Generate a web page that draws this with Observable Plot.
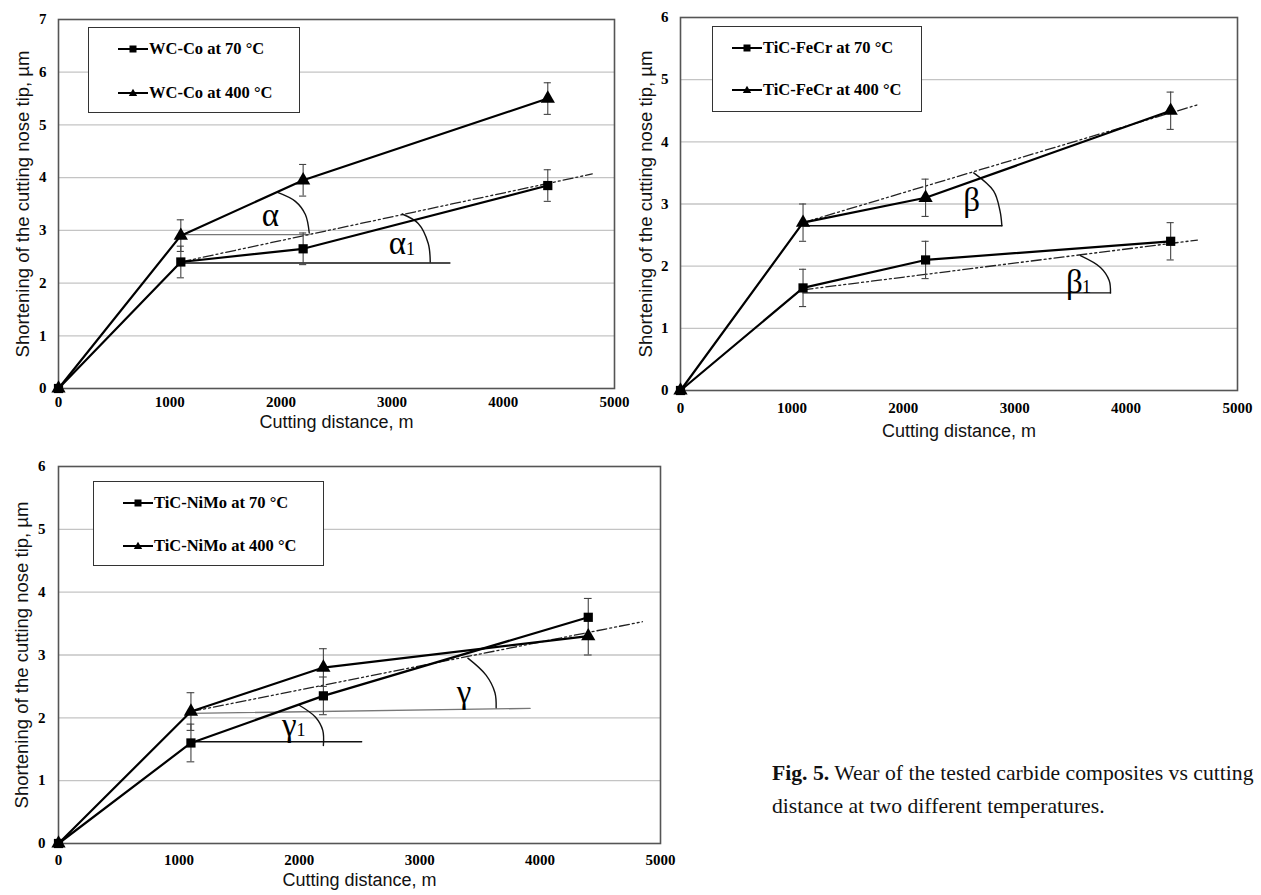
<!DOCTYPE html>
<html><head><meta charset="utf-8">
<script src="https://cdn.jsdelivr.net/npm/d3@7"></script>
<script src="https://cdn.jsdelivr.net/npm/@observablehq/plot@0.6"></script>
<style>
body{margin:0;background:#fff;width:1261px;height:895px;position:relative;overflow:hidden;}
.panel{position:absolute;}
.legend{position:absolute;border:1.5px solid #333;background:#fff;box-sizing:border-box;}
.item{position:absolute;font-family:"Liberation Serif",serif;font-weight:bold;font-size:16.5px;white-space:nowrap;line-height:18px;height:18px;display:flex;align-items:center;}
.caption{position:absolute;left:772px;top:757px;font-family:"Liberation Serif",serif;font-size:21.7px;line-height:33px;color:#111;white-space:nowrap;}
</style></head><body>
<script>
// ---- data ----
const distance = [0, 1100, 2200, 4400];
const errorHalf = [0, 0.3, 0.3, 0.3];
const wcCo70 = [0, 2.4, 2.65, 3.85];
const wcCo400 = [0, 2.9, 3.95, 5.5];
const ticFeCr70 = [0, 1.65, 2.1, 2.4];
const ticFeCr400 = [0, 2.7, 3.1, 4.5];
const ticNiMo70 = [0, 1.6, 2.35, 3.6];
const ticNiMo400 = [0, 2.1, 2.8, 3.3];
const xTicks = [0, 1000, 2000, 3000, 4000, 5000];
const yTicks7 = [0, 1, 2, 3, 4, 5, 6, 7];
const yTicks6 = [0, 1, 2, 3, 4, 5, 6];
const legendWC = ["WC-Co at 70 °C", "WC-Co at 400 °C"];
const legendFeCr = ["TiC-FeCr at 70 °C", "TiC-FeCr at 400 °C"];
const legendNiMo = ["TiC-NiMo at 70 °C", "TiC-NiMo at 400 °C"];
const xTitle = "Cutting distance, m";
const yTitle = "Shortening of the cutting nose tip, µm";

// annotation geometry (data units)
const trendsWC = [[[1100, 2.4], [4800, 4.07]]];
const refGrayWC = [[[1100, 2.92], [2255, 2.92]]];
const refBlackWC = [[[1100, 2.38], [3520, 2.38]]];
const arcsWC = [
  [[1970, 3.72], [2130, 3.55], [2220, 3.3], [2255, 2.95]],
  [[3090, 3.31], [3235, 3.13], [3325, 2.75], [3343, 2.4]]
];
const greekWC = [{x: 1906, y: 3.28, t: "α"}, {x: 3048, y: 2.75, t: "α"}];
const subWC = [{x: 3165, y: 2.64, t: "1"}];

const trendsFeCr = [[[1100, 2.7], [4650, 4.6]], [[1100, 1.62], [4640, 2.42]]];
const refGrayFeCr = [];
const refBlackFeCr = [[[1100, 2.65], [2885, 2.65]], [[1100, 1.57], [3860, 1.57]]];
const arcsFeCr = [
  [[2632, 3.5], [2810, 3.21], [2868, 2.89], [2885, 2.65]],
  [[3590, 2.17], [3770, 1.98], [3848, 1.77], [3860, 1.57]]
];
const greekFeCr = [{x: 2613, y: 3.05, t: "β"}, {x: 3535, y: 1.74, t: "β"}];
const subFeCr = [{x: 3645, y: 1.66, t: "1"}];

const trendsNiMo = [[[1100, 2.1], [4850, 3.53]]];
const refGrayNiMo = [[[1100, 2.07], [3917, 2.15]]];
const refBlackNiMo = [[[1100, 1.62], [2518, 1.62]]];
const arcsNiMo = [
  [[3400, 2.95], [3551, 2.68], [3625, 2.4], [3635, 2.16]],
  [[2000, 2.2], [2135, 2.01], [2195, 1.8], [2200, 1.56]]
];
const greekNiMo = [{x: 3368, y: 2.41, t: "γ"}, {x: 1917, y: 1.88, t: "γ"}];
const subNiMo = [{x: 2015, y: 1.8, t: "1"}];

// ---- helpers ----
function rows(values) {
  return distance.map((x, i) => ({x, y: values[i], e: errorHalf[i]}));
}
function segs(list) {
  return list.flatMap((pts, k) => pts.map(([x, y]) => ({x, y, k})));
}

function makePanel(cfg) {
  const r70 = rows(cfg.s70), r400 = rows(cfg.s400);
  const both = r70.concat(r400).filter(d => d.e > 0);
  const lineStyle = {x: "x", y: "y", stroke: "#000", strokeWidth: 2.2};
  const chart = Plot.plot({
    width: cfg.width, height: cfg.height,
    marginLeft: cfg.ml, marginRight: cfg.mr, marginTop: cfg.mt, marginBottom: cfg.mb,
    x: {domain: [0, 5000]},
    y: {domain: [0, cfg.yMax]},
    style: {fontFamily: "Liberation Serif", background: "transparent", overflow: "visible", color: "#000"},
    marks: [
      Plot.gridY(cfg.yTicks.slice(1, -1), {stroke: "#c4c4c4", strokeOpacity: 1, strokeWidth: 1.3}),
      Plot.frame({stroke: "#555", strokeWidth: 1.6}),
      Plot.axisX(xTicks, {tickSize: 0, tickPadding: cfg.xPad, fontWeight: "bold", fontSize: 15, label: null, tickFormat: d => String(d)}),
      Plot.axisY(cfg.yTicks, {tickSize: 0, tickPadding: cfg.yPad, fontWeight: "bold", fontSize: 15, label: null, tickFormat: d => String(d)}),
      Plot.text([xTitle], {frameAnchor: "bottom", dy: cfg.xTitleDy, fontFamily: "Liberation Sans", fontSize: 18, fill: "#111", textAnchor: "middle"}),
      Plot.text([yTitle], {frameAnchor: "left", dx: -cfg.yTitleDx, rotate: -90, fontFamily: "Liberation Sans", fontSize: 18.5, fill: "#111", textAnchor: "middle"}),
      Plot.line(segs(cfg.refGray), {x: "x", y: "y", z: "k", stroke: "#777", strokeWidth: 1.3}),
      Plot.line(segs(cfg.refBlack), {x: "x", y: "y", z: "k", stroke: "#111", strokeWidth: 1.4}),
      Plot.line(segs(cfg.trends), {x: "x", y: "y", z: "k", stroke: "#222", strokeWidth: 1.3, strokeDasharray: "10,3,2,3,2,3"}),
      Plot.line(segs(cfg.arcs), {x: "x", y: "y", z: "k", stroke: "#111", strokeWidth: 1.4, curve: "catmull-rom"}),
      Plot.ruleX(both, {x: "x", y1: d => d.y - d.e, y2: d => d.y + d.e, stroke: "#444", strokeWidth: 1.1}),
      Plot.ruleY(both, {y: d => d.y + d.e, x1: d => d.x - 32, x2: d => d.x + 32, stroke: "#444", strokeWidth: 1.1}),
      Plot.ruleY(both, {y: d => d.y - d.e, x1: d => d.x - 32, x2: d => d.x + 32, stroke: "#444", strokeWidth: 1.1}),
      Plot.line(r70, lineStyle),
      Plot.line(r400, lineStyle),
      Plot.dot(r400, {x: "x", y: "y", symbol: "triangle", r: 5.3, fill: "#000", stroke: "none"}),
      Plot.dot(r70, {x: "x", y: "y", symbol: "square", r: 5.2, fill: "#000", stroke: "none"}),
      Plot.text(cfg.greek, {x: "x", y: "y", text: "t", fontFamily: "Liberation Serif", fontSize: 33, fill: "#000"}),
      Plot.text(cfg.subs, {x: "x", y: "y", text: "t", fontFamily: "Liberation Serif", fontSize: 18, fill: "#000"})
    ]
  });
  const wrap = document.createElement("div");
  wrap.className = "panel";
  wrap.style.left = cfg.left + "px";
  wrap.style.top = cfg.top + "px";
  wrap.appendChild(chart);
  document.body.appendChild(wrap);

  // legend box inside the plot area
  const L = cfg.legend;
  const box = document.createElement("div");
  box.className = "legend";
  Object.assign(box.style, {left: L.left + "px", top: L.top + "px", width: L.w + "px", height: L.h + "px"});
  cfg.names.forEach((name, i) => {
    const item = document.createElement("div");
    item.className = "item";
    item.style.left = L.lx + "px";
    item.style.top = (L.ys[i] - 9) + "px";
    const sym = i === 0
      ? '<rect x="11.5" y="5.5" width="7" height="7" fill="#000"/>'
      : '<path d="M15 4.8 L19.2 12 L10.8 12 Z" fill="#000"/>';
    item.innerHTML = '<svg width="30" height="18" style="display:block;margin-right:1px"><line x1="0" y1="9" x2="30" y2="9" stroke="#000" stroke-width="2"/>' + sym + '</svg><span>' + name + '</span>';
    box.appendChild(item);
  });
  document.body.appendChild(box);
}

makePanel({
  left: 0, top: 0, width: 630, height: 440, ml: 58, mr: 16, mt: 19, mb: 52,
  yMax: 7, yTicks: yTicks7, xPad: 8, yPad: 12, xTitleDy: 39, yTitleDx: 35,
  s70: wcCo70, s400: wcCo400, trends: trendsWC, refGray: refGrayWC, refBlack: refBlackWC,
  arcs: arcsWC, greek: greekWC, subs: subWC, names: legendWC,
  legend: {left: 88, top: 27, w: 212, h: 86, lx: 29, ys: [21, 65]}
});
makePanel({
  left: 630, top: 0, width: 631, height: 450, ml: 50, mr: 24, mt: 17, mb: 60,
  yMax: 6, yTicks: yTicks6, xPad: 12, yPad: 12, xTitleDy: 46, yTitleDx: 34,
  s70: ticFeCr70, s400: ticFeCr400, trends: trendsFeCr, refGray: refGrayFeCr, refBlack: refBlackFeCr,
  arcs: arcsFeCr, greek: greekFeCr, subs: subFeCr, names: legendFeCr,
  legend: {left: 712, top: 26, w: 210, h: 86, lx: 19, ys: [21, 63]}
});
makePanel({
  left: 0, top: 450, width: 680, height: 445, ml: 58, mr: 20, mt: 16, mb: 52,
  yMax: 6, yTicks: yTicks6, xPad: 11, yPad: 13, xTitleDy: 42, yTitleDx: 36,
  s70: ticNiMo70, s400: ticNiMo400, trends: trendsNiMo, refGray: refGrayNiMo, refBlack: refBlackNiMo,
  arcs: arcsNiMo, greek: greekNiMo, subs: subNiMo, names: legendNiMo,
  legend: {left: 93, top: 481, w: 231, h: 85, lx: 29, ys: [21, 64]}
});

const cap = document.createElement("div");
cap.className = "caption";
cap.innerHTML = "<b>Fig. 5.</b> Wear of the tested carbide composites vs cutting<br>distance at two different temperatures.";
document.body.appendChild(cap);
</script>
</body></html>
